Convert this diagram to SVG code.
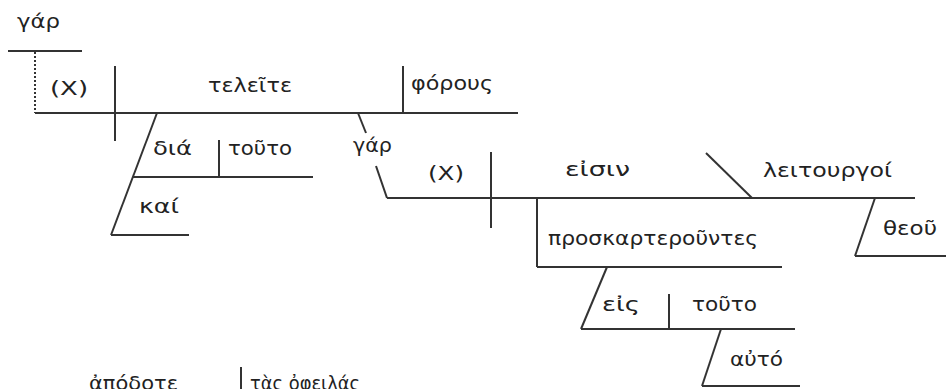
<svg xmlns="http://www.w3.org/2000/svg" width="946" height="389" viewBox="0 0 946 389">
<style>
.ln{stroke:#333;stroke-width:2;fill:none}
.dot{stroke:#333;stroke-width:2;stroke-dasharray:2,2;fill:none}
text{font-family:"DejaVu Sans","Noto Sans",sans-serif;font-size:19px;fill:#222}
</style>
<rect width="946" height="389" fill="#fff"/>
<g id="connectors">
<line class="ln" x1="8" y1="51" x2="82" y2="51"/>
<line class="dot" x1="35" y1="52" x2="35" y2="113"/>
<line class="ln" x1="35" y1="113" x2="518" y2="113"/>
<line class="ln" x1="115" y1="66" x2="115" y2="141"/>
<line class="ln" x1="403" y1="66" x2="403" y2="113"/>
<line class="ln" x1="157" y1="113" x2="111" y2="235"/>
<line class="ln" x1="133" y1="177" x2="313" y2="177"/>
<line class="ln" x1="219" y1="140" x2="219" y2="177"/>
<line class="ln" x1="111" y1="235" x2="189" y2="235"/>
<line class="ln" x1="358" y1="113" x2="366" y2="133"/>
<line class="ln" x1="376" y1="166" x2="387" y2="198"/>
<line class="ln" x1="387" y1="198" x2="915" y2="198"/>
<line class="ln" x1="491" y1="152" x2="491" y2="228"/>
<line class="ln" x1="537" y1="198" x2="537" y2="267"/>
<line class="ln" x1="537" y1="267" x2="782" y2="267"/>
<line class="ln" x1="706" y1="153" x2="752" y2="198"/>
<line class="ln" x1="875" y1="198" x2="855" y2="256"/>
<line class="ln" x1="855" y1="256" x2="946" y2="256"/>
<line class="ln" x1="607" y1="267" x2="581" y2="329"/>
<line class="ln" x1="581" y1="329" x2="795" y2="329"/>
<line class="ln" x1="669" y1="294" x2="669" y2="329"/>
<line class="ln" x1="721" y1="329" x2="702" y2="386"/>
<line class="ln" x1="702" y1="386" x2="800" y2="386"/>
<line class="ln" x1="241" y1="367" x2="241" y2="389"/>
</g>
<g id="n-gar1"><text x="17" y="28" textLength="43" lengthAdjust="spacingAndGlyphs">γάρ</text></g>
<g id="n-x1"><text x="50" y="95" textLength="38" lengthAdjust="spacingAndGlyphs">(X)</text></g>
<g id="n-teleite"><text x="208" y="92" textLength="84" lengthAdjust="spacingAndGlyphs">τελεῖτε</text></g>
<g id="n-phorous"><text x="411" y="90" textLength="82" lengthAdjust="spacingAndGlyphs">φόρους</text></g>
<g id="n-dia"><text x="153" y="155" textLength="39" lengthAdjust="spacingAndGlyphs">διά</text></g>
<g id="n-touto1"><text x="228" y="155" textLength="64" lengthAdjust="spacingAndGlyphs">τοῦτο</text></g>
<g id="n-kai"><text x="139" y="213" textLength="40" lengthAdjust="spacingAndGlyphs">καί</text></g>
<g id="n-gar2"><text x="353" y="152" textLength="39" lengthAdjust="spacingAndGlyphs">γάρ</text></g>
<g id="n-x2"><text x="428" y="180" textLength="36" lengthAdjust="spacingAndGlyphs">(X)</text></g>
<g id="n-eisin"><text x="565" y="176" textLength="65" lengthAdjust="spacingAndGlyphs">εἰσιν</text></g>
<g id="n-leitourgoi"><text x="763" y="177" textLength="129" lengthAdjust="spacingAndGlyphs">λειτουργοί</text></g>
<g id="n-theou"><text x="883" y="235" textLength="54" lengthAdjust="spacingAndGlyphs">θεοῦ</text></g>
<g id="n-proskart"><text x="548" y="245" textLength="210" lengthAdjust="spacingAndGlyphs">προσκαρτεροῦντες</text></g>
<g id="n-eis"><text x="602" y="311" textLength="38" lengthAdjust="spacingAndGlyphs">εἰς</text></g>
<g id="n-touto2"><text x="692" y="311" textLength="65" lengthAdjust="spacingAndGlyphs">τοῦτο</text></g>
<g id="n-auto"><text x="730" y="366" textLength="53" lengthAdjust="spacingAndGlyphs">αὐτό</text></g>
<g id="n-apodote"><text x="89" y="390" textLength="89" lengthAdjust="spacingAndGlyphs">ἀπόδοτε</text></g>
<g id="n-opheilas"><text x="250" y="390" textLength="110" lengthAdjust="spacingAndGlyphs">τὰς ὀφειλάς</text></g>
</svg>
